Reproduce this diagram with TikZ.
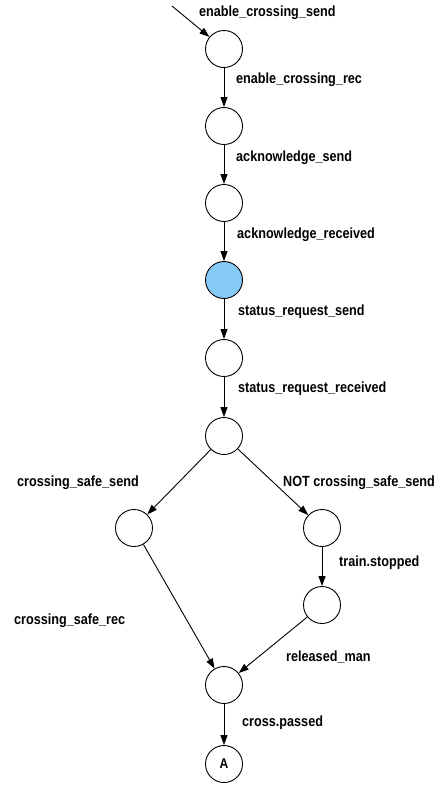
\documentclass[tikz,border=0pt]{standalone}
\usepackage{fontspec}
\setmainfont[FakeStretch=0.86]{Liberation Sans}
\usetikzlibrary{arrows.meta}

\definecolor{marked}{RGB}{135,202,250}

\begin{document}
\begin{tikzpicture}[x=1pt,y=-1pt,
  state/.style={circle,draw,line width=0.9pt,minimum size=37pt,inner sep=0pt},
  lbl/.style={font=\bfseries\fontsize{14.7}{16}\selectfont,anchor=west,inner sep=0pt},
  edge/.style={line width=0.9pt,-{Triangle[length=10pt,width=7pt]}}]
\useasboundingbox (0,0) rectangle (438,785);

% states
\node[state] (s1) at (224,49) {};
\node[state] (s2) at (224,126) {};
\node[state] (s3) at (224,203) {};
\node[state,fill=marked] (s4) at (224,280) {};
\node[state] (s5) at (224,358) {};
\node[state] (s6) at (224,436) {};
\node[state] (sl) at (134,528) {};
\node[state] (sr) at (322,528) {};
\node[state] (sr2) at (322,605) {};
\node[state] (sm) at (224,685) {};
\node[state,font=\bfseries\fontsize{14}{15}\selectfont] (sA) at (224,764) {A};
\coordinate (in) at (172,6);

% transitions
\draw[edge] (in) -- (s1);
\draw[edge] (s1) -- (s2);
\draw[edge] (s2) -- (s3);
\draw[edge] (s3) -- (s4);
\draw[edge] (s4) -- (s5);
\draw[edge] (s5) -- (s6);
\draw[edge] (s6) -- (sl);
\draw[edge] (s6) -- (sr);
\draw[edge] (sr) -- (sr2);
\draw[edge] (sl) -- (sm);
\draw[edge] (sr2) -- (sm);
\draw[edge] (sm) -- (sA);

% transition labels
\node[lbl] (t1) at (199,13) {enable\_crossing\_send};
\node[lbl] (t2) at (236,80) {enable\_crossing\_rec};
\node[lbl] (t3) at (236,158) {acknowledge\_send};
\node[lbl] (t4) at (237,235) {acknowledge\_received};
\node[lbl] (t5) at (238,312) {status\_request\_send};
\node[lbl] (t6) at (238,389) {status\_request\_received};
\node[lbl] (t7) at (17,483) {crossing\_safe\_send};
\node[lbl] (t8) at (283,483) {NOT crossing\_safe\_send};
\node[lbl] (t9) at (339,563) {train.stopped};
\node[lbl] (t10) at (14,621) {crossing\_safe\_rec};
\node[lbl] (t11) at (286,657) {released\_man};
\node[lbl] (t12) at (242,723) {cross.passed};
\end{tikzpicture}
\end{document}
